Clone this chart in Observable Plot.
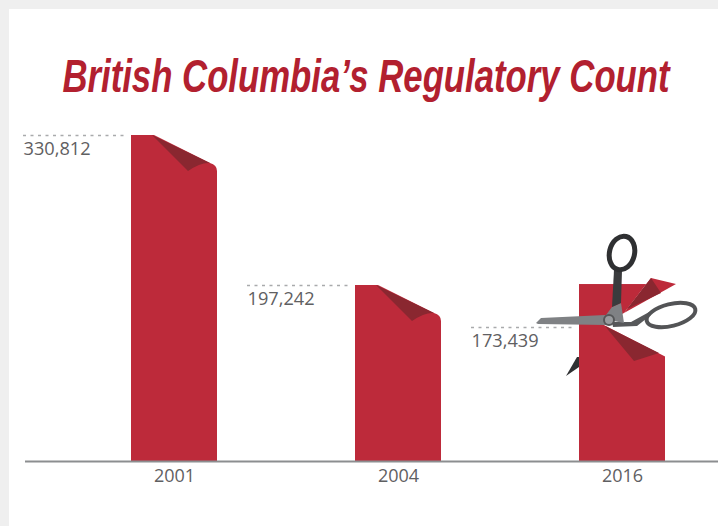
<!DOCTYPE html>
<html>
<head>
<meta charset="utf-8">
<script src="https://cdn.jsdelivr.net/npm/d3@7"></script>
<script src="https://cdn.jsdelivr.net/npm/@observablehq/plot@0.6"></script>
<style>
html,body{margin:0;padding:0;background:#efefef;width:718px;height:526px;overflow:hidden}
#panel{position:absolute;left:9px;top:9px;right:0;bottom:0;background:#fff}
#title{position:absolute;left:366px;top:48px;margin:0;transform:translateX(-50%) scaleX(.755);
 font:italic bold 46px/56px "Liberation Sans",sans-serif;color:#b2202f;white-space:nowrap}
#chart{position:absolute;left:0;top:110px}
</style>
</head>
<body>
<div id="panel"></div>
<h1 id="title">British Columbia’s Regulatory Count</h1>
<div id="chart"></div>
<script>
const years = ["2001", "2004", "2016"];
const counts = [330812, 197242, 173439];
const drawnTops = [330812, 197242, 198100];   // the 2016 bar is drawn taller, then cut down to its count
const countLabels = ["330,812", "197,242", "173,439"];
// The picture is not drawn to a straight scale: each count maps to the height at which its bar stops.
const countLevels = [0, 173439, 197242, 330812];
const drawnHeights = [0, 134, 176, 326];
const height = d3.scaleLinear(countLevels, drawnHeights);

const red = "#bd2a3a", darkRed = "#8a2730", ink = "#5f6062", paper = "#fff";
const rows = years.map((year, i) => ({year, count: counts[i], top: drawnTops[i], label: countLabels[i]}));
const bandOf = x => typeof x.bandwidth === "function" ? x.bandwidth() : x.bandwidth;

function folds(index, {x, y}) {
  const g = d3.create("svg:g");
  rows.slice(0, 2).forEach(d => {
    const f = g.append("g").attr("transform", `translate(${x(d.year) + bandOf(x)},${y(height(d.top))})`);
    f.append("path").attr("fill", paper).attr("d", "M-65,-1L1,-1L1,36L0,36Q0,30 -7,28Z");
    f.append("path").attr("fill", darkRed).attr("d", "M-65,0L-7,28Q-16,27 -29,36Z");
  });
  return g.node();
}

function cut(index, {x, y}) {
  const d = rows[2];
  const g = d3.create("svg:g")
    .attr("transform", `translate(${x(d.year) + bandOf(x)},${y(height(d.top))})`);
  g.append("path").attr("fill", paper).attr("d", "M-41,29L-18,-1L14,-1L14,80L1,80L1,73L-63,40Z");
  g.append("path").attr("fill", red).attr("d", "M-41,29L-14,-6L11,0Z");
  g.append("path").attr("fill", darkRed).attr("d", "M-38,25L-14,-6L-4,9Z");
  g.append("path").attr("fill", darkRed).attr("d", "M-56,47L-31,77L-6,69L-60,42Z");
  return g.node();
}

function scissors(index, {x, y}) {
  const d = rows[2];
  const g = d3.create("svg:g")
    .attr("transform", `translate(${x(d.year) + bandOf(x) - 56},${y(height(d.count)) - 7})`);
  g.append("path").attr("fill", "#2f3032").attr("d", "M-43,56L-32,37L-30,37L-30,47Z");
  g.append("path").attr("fill", "#57585a").attr("d", "M3,2L22,2L42,-9L42,-5L28,6L4,7Z");
  g.append("ellipse").attr("cx", 62).attr("cy", -5).attr("rx", 25).attr("ry", 11)
    .attr("transform", "rotate(-14 62 -5)").attr("fill", "none").attr("stroke", "#535456").attr("stroke-width", 4);
  g.append("path").attr("fill", "#7f8184").attr("d", "M-73,3L-68,-2L-4,-5L3,3L-3,5L-71,4Z");
  g.append("path").attr("fill", "#7f8184").attr("d", "M3,-13L12,-17L15,3L-6,-1Z");
  g.append("path").attr("fill", "#3a3b3d").attr("d", "M5,-50L13,-50L12,-17L3,-13Z");
  g.append("ellipse").attr("cx", 13).attr("cy", -67).attr("rx", 12.5).attr("ry", 17)
    .attr("transform", "rotate(14 13 -67)").attr("fill", "none").attr("stroke", "#2f3032").attr("stroke-width", 5);
  g.append("circle").attr("cx", 0).attr("cy", 0).attr("r", 5).attr("fill", "#9a9c9f").attr("stroke", "#555658").attr("stroke-width", 2);
  return g.node();
}

const plot = Plot.plot({
  width: 718,
  height: 416,
  marginLeft: 25,
  marginRight: 0,
  marginTop: 25,
  marginBottom: 65,
  style: {background: "transparent", fontFamily: "'Open Sans', sans-serif", overflow: "visible"},
  x: {domain: years, range: [131, 666], paddingInner: 0.614, paddingOuter: 0, axis: null},
  y: {domain: [0, 326], range: [351, 25], axis: null},
  marks: [
    Plot.barY(rows, {x: "year", y: d => height(d.top), fill: red}),
    folds,
    cut,
    scissors,
    Plot.tickY(rows, {x: "year", y: d => height(d.count), dx: -105, insetLeft: -3, insetRight: -15.4,
      stroke: "#a9aaac", strokeWidth: 1.5, strokeDasharray: "3,4.5"}),
    Plot.text(rows, {x: "year", y: d => height(d.count), text: "label", dx: -151, dy: 14, textAnchor: "start",
      fill: ink, fontSize: 18.2}),
    Plot.ruleY([0], {stroke: "#8c8e90", strokeWidth: 2}),
    Plot.axisX({anchor: "bottom", tickSize: 0, tickPadding: 8, label: null, fontSize: 18, color: ink})
  ]
});
document.getElementById("chart").appendChild(plot);
</script>
</body>
</html>
